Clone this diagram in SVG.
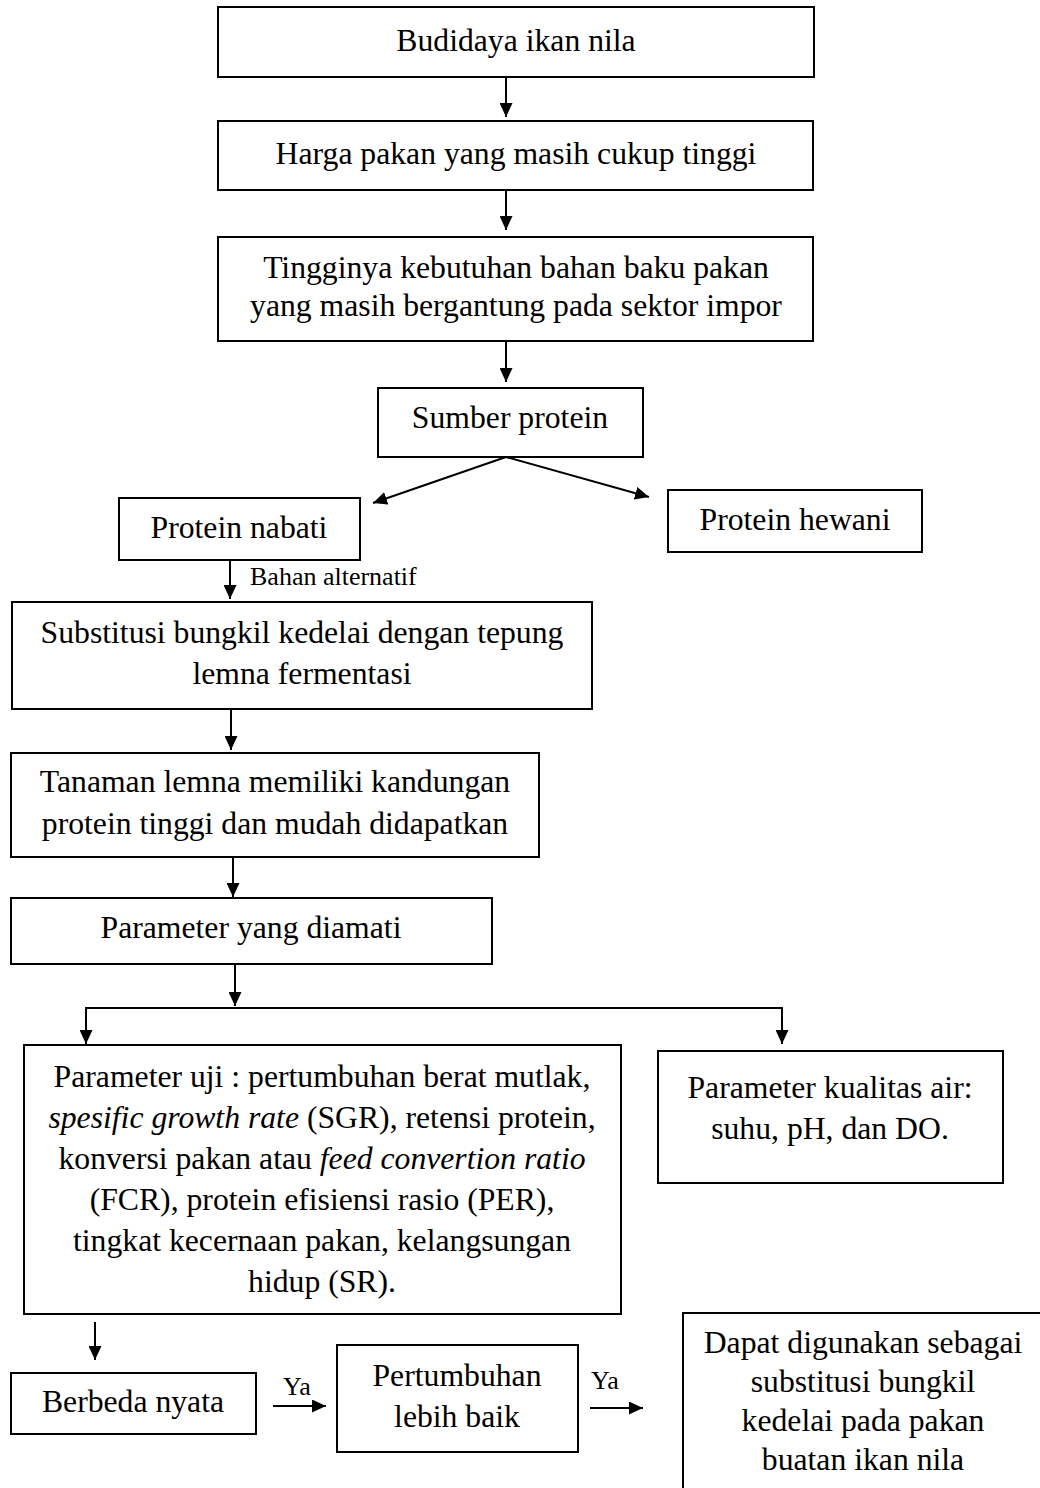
<svg xmlns="http://www.w3.org/2000/svg" width="1040" height="1488" viewBox="0 0 1040 1488">
<style>
.box{fill:#fff;stroke:#000;stroke-width:2}
.t{font-family:"Liberation Serif","Times New Roman",serif;font-size:31.7px;fill:#000;text-anchor:middle}
.s{font-family:"Liberation Serif","Times New Roman",serif;font-size:26px;fill:#000}
.c{fill:none;stroke:#000;stroke-width:2}
.i{font-style:italic}
</style>
<defs>
<marker id="ah" markerUnits="userSpaceOnUse" markerWidth="14" markerHeight="13" refX="14" refY="6.5" orient="auto">
<path d="M0,0 L14,6.5 L0,13 z" fill="#000"/>
</marker>
</defs>
<rect width="1040" height="1488" fill="#fff"/>
<g id="connectors">
<line class="c" x1="506" y1="78" x2="506" y2="117" marker-end="url(#ah)"/>
<line class="c" x1="506" y1="191" x2="506" y2="230" marker-end="url(#ah)"/>
<line class="c" x1="506" y1="342" x2="506" y2="382" marker-end="url(#ah)"/>
<line class="c" x1="506" y1="457" x2="373" y2="503" marker-end="url(#ah)"/>
<line class="c" x1="506" y1="457" x2="649" y2="497" marker-end="url(#ah)"/>
<line class="c" x1="230" y1="561" x2="230" y2="599" marker-end="url(#ah)"/>
<text class="s" x="250" y="585">Bahan alternatif</text>
<line class="c" x1="231" y1="710" x2="231" y2="750" marker-end="url(#ah)"/>
<line class="c" x1="233" y1="858" x2="233" y2="897" marker-end="url(#ah)"/>
<line class="c" x1="235" y1="965" x2="235" y2="1006" marker-end="url(#ah)"/>
<line class="c" x1="86" y1="1008" x2="782" y2="1008"/>
<line class="c" x1="86" y1="1007" x2="86" y2="1044" marker-end="url(#ah)"/>
<line class="c" x1="782" y1="1007" x2="782" y2="1044" marker-end="url(#ah)"/>
<line class="c" x1="95" y1="1322" x2="95" y2="1360" marker-end="url(#ah)"/>
<line class="c" x1="273" y1="1406" x2="326" y2="1406" marker-end="url(#ah)"/>
<text class="s" x="283" y="1395">Ya</text>
<line class="c" x1="590" y1="1408" x2="643" y2="1408" marker-end="url(#ah)"/>
<text class="s" x="591" y="1389">Ya</text>
</g>
<g id="n1"><rect class="box" x="218" y="7" width="596" height="70"/><text class="t" x="516" y="51">Budidaya ikan nila</text></g>
<g id="n2"><rect class="box" x="218" y="121" width="595" height="69"/><text class="t" x="516" y="164">Harga pakan yang masih cukup tinggi</text></g>
<g id="n3"><rect class="box" x="218" y="237" width="595" height="104"/><text class="t" x="516" y="278">Tingginya kebutuhan bahan baku pakan</text><text class="t" x="516" y="316">yang masih bergantung pada sektor impor</text></g>
<g id="n4"><rect class="box" x="378" y="388" width="265" height="69"/><text class="t" x="510" y="428">Sumber protein</text></g>
<g id="n5"><rect class="box" x="119" y="498" width="241" height="62"/><text class="t" x="239" y="538">Protein nabati</text></g>
<g id="n6"><rect class="box" x="668" y="490" width="254" height="62"/><text class="t" x="795" y="530">Protein hewani</text></g>
<g id="n7"><rect class="box" x="12" y="602" width="580" height="107"/><text class="t" x="302" y="643">Substitusi bungkil kedelai dengan tepung</text><text class="t" x="302" y="684">lemna fermentasi</text></g>
<g id="n8"><rect class="box" x="11" y="753" width="528" height="104"/><text class="t" x="275" y="792">Tanaman lemna memiliki kandungan</text><text class="t" x="275" y="834">protein tinggi dan mudah didapatkan</text></g>
<g id="n9"><rect class="box" x="11" y="898" width="481" height="66"/><text class="t" x="251" y="938">Parameter yang diamati</text></g>
<g id="n10"><rect class="box" x="24" y="1045" width="597" height="269"/>
<text class="t" x="322" y="1087">Parameter uji : pertumbuhan berat mutlak,</text>
<text class="t" x="322" y="1128"><tspan class="i">spesific growth rate</tspan> (SGR), retensi protein,</text>
<text class="t" x="322" y="1169">konversi pakan atau <tspan class="i">feed convertion ratio</tspan></text>
<text class="t" x="322" y="1210">(FCR), protein efisiensi rasio (PER),</text>
<text class="t" x="322" y="1251">tingkat kecernaan pakan, kelangsungan</text>
<text class="t" x="322" y="1292">hidup (SR).</text>
</g>
<g id="n11"><rect class="box" x="658" y="1051" width="345" height="132"/><text class="t" x="830" y="1098">Parameter kualitas air:</text><text class="t" x="830" y="1139">suhu, pH, dan DO.</text></g>
<g id="n12"><rect class="box" x="11" y="1373" width="245" height="61"/><text class="t" x="133" y="1412">Berbeda nyata</text></g>
<g id="n13"><rect class="box" x="337" y="1345" width="241" height="107"/><text class="t" x="457" y="1386">Pertumbuhan</text><text class="t" x="457" y="1427">lebih baik</text></g>
<g id="n14"><rect class="box" x="683" y="1313" width="400" height="200"/><text class="t" x="863" y="1353">Dapat digunakan sebagai</text><text class="t" x="863" y="1392">substitusi bungkil</text><text class="t" x="863" y="1431">kedelai pada pakan</text><text class="t" x="863" y="1470">buatan ikan nila</text></g>
</svg>
